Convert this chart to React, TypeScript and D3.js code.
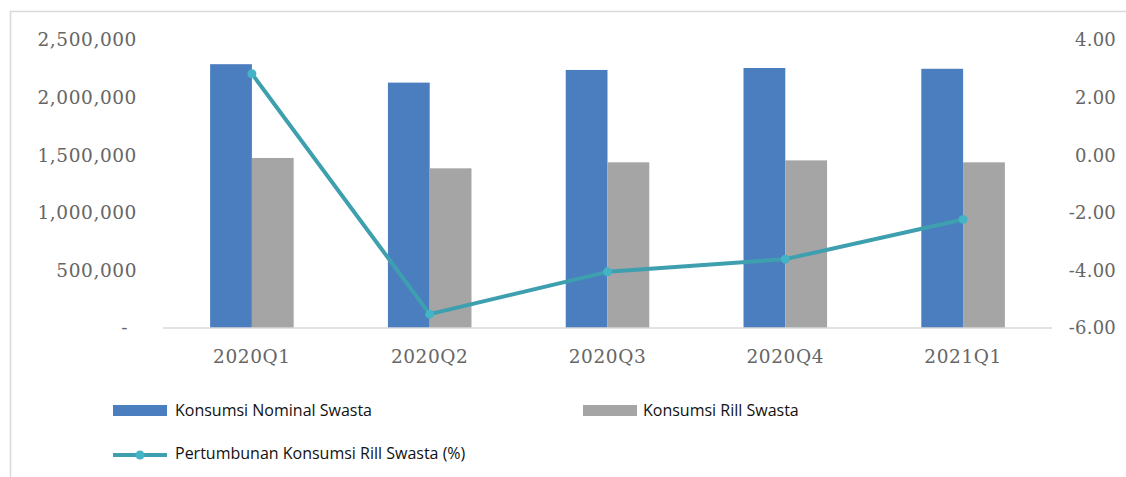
import React from "react";
import * as d3 from "d3";

const categories = ["2020Q1", "2020Q2", "2020Q3", "2020Q4", "2021Q1"];
const nominal = [2290000, 2130000, 2240000, 2257000, 2250000];
const riil = [1476000, 1386000, 1438000, 1455000, 1438000];
const growth = [2.83, -5.52, -4.05, -3.61, -2.23];
const leftTicks = [0, 500000, 1000000, 1500000, 2000000, 2500000];
const rightTicks = [-6, -4, -2, 0, 2, 4];
const seriesNames = ["Konsumsi Nominal Swasta", "Konsumsi Rill Swasta", "Pertumbunan Konsumsi Rill Swasta (%)"];

const W = 1126;
const H = 477;
const plotLeft = 163;
const plotRight = 1052;
const plotTop = 40;
const plotBottom = 328;

const BLUE = "#4a7ebf";
const GRAY = "#a5a5a5";
const TEAL = "#3e9fae";
const MARK = "#43b3c6";
const TEXT = "#666666";
const AXIS_FONT = "'DejaVu Serif', serif";
const LEG_FONT = "'Open Sans', 'Noto Sans', sans-serif";

const locale = d3.formatLocale({ decimal: ".", thousands: ",", grouping: [3], currency: ["", ""], minus: "-" });

export default function App() {
  const x = d3.scaleBand<string>().domain(categories).range([plotLeft, plotRight]).paddingInner(0.53).paddingOuter(0.265);
  const sub = d3.scaleBand<string>().domain(["n", "r"]).range([0, x.bandwidth()]);
  const yL = d3.scaleLinear().domain([0, 2500000]).range([plotBottom, plotTop]);
  const yR = d3.scaleLinear().domain([-6, 4]).range([plotBottom, plotTop]);
  const fmtL = locale.format(",");
  const fmtR = locale.format(".2f");
  const cx = (c: string) => (x(c) as number) + x.bandwidth() / 2;
  const line = d3
    .line<number>()
    .x((_, i) => cx(categories[i]))
    .y((d) => yR(d));

  return (
    <svg width={W} height={H} style={{ position: "absolute", left: 0, top: 0, background: "#fff" }}>
      <rect x={10.5} y={11.5} width={1200} height={600} fill="#fff" stroke="#d9d9d9" strokeWidth={1.5} />
      {leftTicks.map((t) => (
        <text
          key={"l" + t}
          x={t === 0 ? 128 : 137}
          y={yL(t)}
          dy="0.35em"
          textAnchor="end"
          fontFamily={AXIS_FONT}
          fontSize={18.5}
          letterSpacing={0.6}
          fill={TEXT}
        >
          {t === 0 ? "-" : fmtL(t)}
        </text>
      ))}
      {rightTicks.map((t) => (
        <text
          key={"r" + t}
          x={1116}
          y={yR(t)}
          dy="0.35em"
          textAnchor="end"
          fontFamily={AXIS_FONT}
          fontSize={18}
          letterSpacing={0.2}
          fill={TEXT}
        >
          {fmtR(t)}
        </text>
      ))}
      {categories.map((c, i) => (
        <g key={c}>
          <rect
            x={(x(c) as number) + (sub("n") as number)}
            y={yL(nominal[i])}
            width={sub.bandwidth()}
            height={yL(0) - yL(nominal[i])}
            fill={BLUE}
          />
          <rect
            x={(x(c) as number) + (sub("r") as number)}
            y={yL(riil[i])}
            width={sub.bandwidth()}
            height={yL(0) - yL(riil[i])}
            fill={GRAY}
          />
          <text
            x={cx(c)}
            y={357}
            dy="0.35em"
            textAnchor="middle"
            fontFamily={AXIS_FONT}
            fontSize={18.5}
            letterSpacing={0.6}
            fill={TEXT}
          >
            {c}
          </text>
        </g>
      ))}
      <line x1={plotLeft} x2={plotRight} y1={plotBottom} y2={plotBottom} stroke="#d9d9d9" strokeWidth={1.5} />
      <path d={line(growth) || ""} fill="none" stroke={TEAL} strokeWidth={4} strokeLinejoin="round" />
      {growth.map((g, i) => (
        <circle key={"m" + i} cx={cx(categories[i])} cy={yR(g)} r={4.5} fill={MARK} />
      ))}
      {/* legend */}
      <rect x={113} y={405} width={54} height={11} fill={BLUE} />
      <text x={175} y={410} dy="0.35em" fontFamily={LEG_FONT} fontSize={16} fill="#111">
        {seriesNames[0]}
      </text>
      <rect x={583} y={405} width={54} height={11} fill={GRAY} />
      <text x={643} y={410} dy="0.35em" fontFamily={LEG_FONT} fontSize={16} fill="#111">
        {seriesNames[1]}
      </text>
      <line x1={113} x2={167} y1={455} y2={455} stroke={TEAL} strokeWidth={4} />
      <circle cx={140} cy={455} r={4.5} fill={MARK} />
      <text x={175} y={453} dy="0.35em" fontFamily={LEG_FONT} fontSize={16} fill="#111">
        {seriesNames[2]}
      </text>
    </svg>
  );
}
